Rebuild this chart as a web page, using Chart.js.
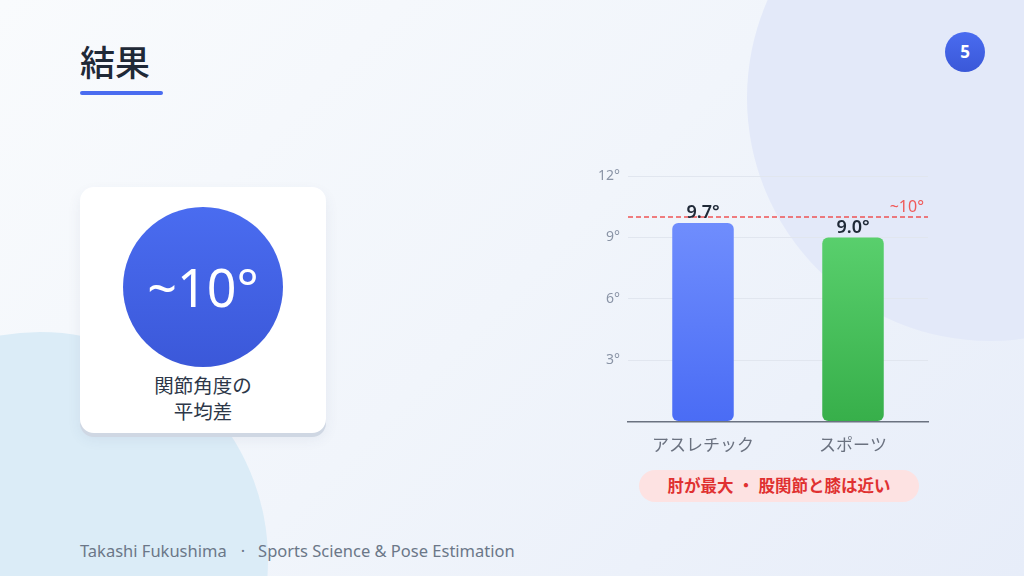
<!DOCTYPE html>
<html lang="ja">
<head>
<meta charset="utf-8">
<script src="https://cdn.jsdelivr.net/npm/chart.js@4"></script>
<style>
  html, body { margin: 0; padding: 0; }
  body {
    width: 1024px; height: 576px; overflow: hidden; position: relative;
    background: linear-gradient(135deg, #f9fbfd 0%, #f1f5fb 50%, #e7edf9 100%);
    font-family: "Noto Sans", "Noto Sans CJK JP", sans-serif;
  }
  .blob { position: absolute; border-radius: 50%; }
  .blob.tr { left: 747px; top: -145px; width: 486px; height: 486px; background: #e3e9f9; }
  .blob.bl { left: -188px; top: 332px; width: 456px; height: 456px; background: #dbecf7; }
  .title { position: absolute; left: 80px; top: 45px; font-size: 35px; font-weight: 500; color: #1f2937; line-height: 1; }
  .title-bar { position: absolute; left: 80px; top: 91px; width: 83px; height: 4px; border-radius: 2px; background: #4a6cf0; }
  .badge {
    position: absolute; left: 945px; top: 32px; width: 40px; height: 40px; border-radius: 50%;
    background: linear-gradient(180deg, #4a6cf0, #3a58d8); color: #fff;
    font-size: 17px; font-weight: 700; text-align: center; line-height: 40px;
  }
  .card {
    position: absolute; left: 80px; top: 187px; width: 246px; height: 246px; border-radius: 14px;
    background: #fff; box-shadow: 0 4px 0 #cfd7e3, 0 6px 14px rgba(60, 80, 120, 0.08);
  }
  .circle {
    position: absolute; left: 43px; top: 20px; width: 160px; height: 160px; border-radius: 50%;
    background: linear-gradient(180deg, #4a6cf0, #3b58d9); color: #fff;
    font-size: 52px; text-align: center; line-height: 160px;
  }
  .card-label {
    position: absolute; left: 0; width: 246px; text-align: center;
    font-size: 19.5px; line-height: 20px; height: 20px; color: #2d3748; font-weight: 400;
  }
  .card-label.l1 { top: 189px; }
  .card-label.l2 { top: 215px; }
  .chart-box { position: absolute; left: 560px; top: 150px; width: 370px; height: 312px; }
  .pill {
    position: absolute; left: 639px; top: 470px; width: 280px; height: 32px; border-radius: 16px;
    background: #fde2e2; color: #e03131; font-size: 16.5px; font-weight: 700;
    text-align: center; line-height: 32px;
  }
  .footer { position: absolute; left: 80px; top: 539px; font-size: 16.5px; color: #6b7788; white-space: pre; }
  .footer .sep { display: inline-block; margin: 0 13px 0 14px; }
</style>
</head>
<body>
<div class="blob tr"></div>
<div class="blob bl"></div>

<div class="title">結果</div>
<div class="title-bar"></div>
<div class="badge">5</div>

<div class="card">
  <div class="circle">~10°</div>
  <div class="card-label l1">関節角度の</div>
  <div class="card-label l2">平均差</div>
</div>

<div class="chart-box"><canvas id="result_chart"></canvas></div>

<div class="pill">肘が最大 ・ 股関節と膝は近い</div>
<div class="footer">Takashi Fukushima<span class="sep">·</span>Sports Science &amp; Pose Estimation</div>

<script>
var categories = ['アスレチック', 'スポーツ'];
var errorValues = [9.7, 9.0];
var yTicks = [3, 6, 9, 12];
var refValue = 10;
var refLabel = '~10°';

var FONT = '"Noto Sans", "Noto Sans CJK JP", sans-serif';

function barGradient(ctx, area, top, bottom) {
    var g = ctx.createLinearGradient(0, area.top, 0, area.bottom);
    g.addColorStop(0, top);
    g.addColorStop(1, bottom);
    return g;
}

// value labels above each bar + dashed reference line
var overlay = {
    id: 'overlay',
    afterDatasetsDraw: function (chart) {
        var ctx = chart.ctx;
        var area = chart.chartArea;
        var y = chart.scales.y.getPixelForValue(refValue);

        ctx.save();
        ctx.strokeStyle = 'rgba(239, 68, 68, 0.9)';
        ctx.lineWidth = 1.5;
        ctx.setLineDash([5, 3]);
        ctx.beginPath();
        ctx.moveTo(area.left, y);
        ctx.lineTo(area.right, y);
        ctx.stroke();
        ctx.setLineDash([]);

        ctx.fillStyle = '#f05a5a';
        ctx.font = '16px ' + FONT;
        ctx.textAlign = 'right';
        ctx.textBaseline = 'bottom';
        ctx.fillText(refLabel, area.right - 4, y - 1);

        var meta = chart.getDatasetMeta(0);
        ctx.fillStyle = '#1f2937';
        ctx.font = '600 18px ' + FONT;
        ctx.textAlign = 'center';
        ctx.textBaseline = 'bottom';
        meta.data.forEach(function (bar, i) {
            ctx.fillText(errorValues[i].toFixed(1) + '°', bar.x, bar.y - 1);
        });
        ctx.restore();
    }
};

new Chart(document.getElementById('result_chart'), {
    type: 'bar',
    data: {
        labels: categories,
        datasets: [
            {
                label: '平均差',
                data: errorValues,
                backgroundColor: function (c) {
                    var area = c.chart.chartArea;
                    if (!area) return '#5b7cf7';
                    return c.dataIndex === 0
                        ? barGradient(c.chart.ctx, area, '#7895ff', '#4a6cf5')
                        : barGradient(c.chart.ctx, area, '#64da78', '#37af4a');
                },
                borderRadius: 6,
                borderSkipped: false,
                categoryPercentage: 1,
                barPercentage: 0.41
            }
        ]
    },
    plugins: [overlay],
    options: {
        responsive: true,
        maintainAspectRatio: false,
        animation: false,
        layout: { padding: { top: 26, right: 2, bottom: 0, left: 0 } },
        plugins: {
            legend: { display: false },
            tooltip: { enabled: false }
        },
        scales: {
            x: {
                grid: { display: false },
                border: { display: true, color: '#6b7280', width: 1.5 },
                ticks: { color: '#6b7280', font: { family: FONT, size: 17 }, padding: 6 }
            },
            y: {
                min: 0,
                max: 12,
                afterFit: function (scale) { scale.width = 68; },
                afterBuildTicks: function (scale) {
                    scale.ticks = [0].concat(yTicks).map(function (v) { return { value: v }; });
                },
                grid: { color: '#e1e6ef', lineWidth: 1, drawTicks: false },
                border: { display: false },
                ticks: {
                    color: '#8a94a6',
                    font: { family: FONT, size: 14 },
                    padding: 8,
                    callback: function (v) { return v === 0 ? '' : v + '°'; }
                }
            }
        }
    }
});
</script>
</body>
</html>
